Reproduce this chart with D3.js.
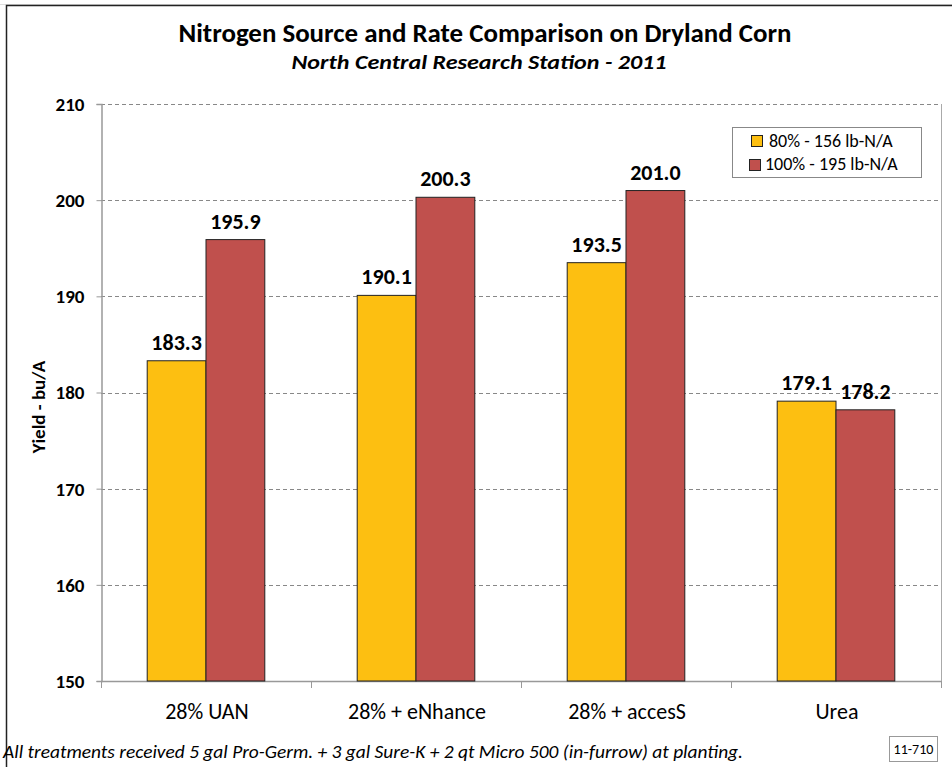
<!DOCTYPE html>
<html><head><meta charset="utf-8">
<script src="https://cdn.jsdelivr.net/npm/d3@7"></script>
<style>
body{margin:0;background:#fff;}
text{font-family:Carlito,Lato,"Liberation Sans",Arial,sans-serif;fill:#000;}
</style></head><body>
<svg id="c" width="952" height="767"></svg>
<script>
const categories = ["28% UAN","28% + eNhance","28% + accesS","Urea"];
const seriesNames = ["80% - 156 lb-N/A","100% - 195 lb-N/A"];
const rate80 = [183.3,190.1,193.5,179.1];
const rate100 = [195.9,200.3,201.0,178.2];
const yTicks = [150,160,170,180,190,200,210];
const colors = ["#FDBF11","#C0504D"];

const svg = d3.select("#c");
// frame
svg.append("line").attr("x1",0).attr("x2",952).attr("y1",4.5).attr("y2",4.5).attr("stroke","#ddd");
svg.append("path").attr("d","M6.5,767 V5.5 H952").attr("fill","none").attr("stroke","#222").attr("stroke-width",1.5);

const L=101,R=941,T=104,B=681;
const y = d3.scaleLinear().domain([150,210]).range([B,T]);
const x0 = d3.scaleBand().domain(categories).range([L,R]).paddingInner(0.44).paddingOuter(0.22);
const x1 = d3.scaleBand().domain([0,1]).range([0,x0.bandwidth()]);

// gridlines
svg.append("g").selectAll("line").data(yTicks.filter(d=>d>150)).join("line")
  .attr("x1",L).attr("x2",R).attr("y1",d=>Math.round(y(d))+0.5).attr("y2",d=>Math.round(y(d))+0.5)
  .attr("stroke","#888").attr("stroke-dasharray","4,3");

// y axis
const ya = svg.append("g").attr("transform",`translate(${L+0.5},0)`)
  .call(d3.axisLeft(y).tickValues(yTicks).tickSize(5).tickPadding(12).tickFormat(d3.format("d")));
ya.select(".domain").attr("stroke","#999").attr("stroke-width",1.5);
ya.selectAll(".tick line").attr("stroke","#999");
ya.selectAll("text").attr("font-size",19).attr("font-weight","bold").attr("fill","#000").attr("dy","0.34em");

// right line
svg.append("line").attr("x1",R+0.5).attr("x2",R+0.5).attr("y1",T).attr("y2",B+7).attr("stroke","#aaa");

// x axis
const step = (R-L)/categories.length;
const xa = svg.append("g");
xa.append("line").attr("x1",L).attr("x2",R).attr("y1",B+0.5).attr("y2",B+0.5).attr("stroke","#999").attr("stroke-width",1.5);
xa.selectAll("line.t").data(d3.range(categories.length+1)).join("line").attr("class","t")
  .attr("x1",i=>L+i*step+0.5).attr("x2",i=>L+i*step+0.5).attr("y1",B).attr("y2",B+7).attr("stroke","#999");
xa.selectAll("text").data(categories).join("text")
  .attr("x",d=>x0(d)+x0.bandwidth()/2+1).attr("y",719).attr("text-anchor","middle")
  .attr("font-size",22).text(d=>d);

// bars
const rows = categories.map((c,i)=>({c, v:[rate80[i],rate100[i]]}));
const g = svg.append("g").selectAll("g").data(rows).join("g").attr("transform",d=>`translate(${x0(d.c)},0)`);
g.selectAll("rect").data(d=>d.v.map((v,k)=>({v,k}))).join("rect")
  .attr("x",d=>x1(d.k)).attr("width",x1.bandwidth())
  .attr("y",d=>y(d.v)).attr("height",d=>B-y(d.v))
  .attr("fill",d=>colors[d.k]).attr("stroke","#222").attr("stroke-width",1);
g.selectAll("text").data(d=>d.v.map((v,k)=>({v,k}))).join("text")
  .attr("x",d=>x1(d.k)+x1.bandwidth()/2).attr("y",d=>y(d.v)-11)
  .attr("text-anchor","middle").attr("font-size",22).attr("font-weight","bold")
  .text(d=>d.v.toFixed(1));

// titles
svg.append("text").attr("x",485).attr("y",42).attr("text-anchor","middle").attr("font-size",27).attr("font-weight","bold")
  .attr("textLength",613).attr("lengthAdjust","spacingAndGlyphs").text("Nitrogen Source and Rate Comparison on Dryland Corn");
svg.append("text").attr("x",479).attr("y",69).attr("text-anchor","middle").attr("font-size",21).attr("font-weight","bold").attr("font-style","italic")
  .attr("textLength",375).attr("lengthAdjust","spacingAndGlyphs").text("North Central Research Station - 2011");

// y title
svg.append("text").attr("transform","translate(45,407) rotate(-90)").attr("text-anchor","middle")
  .attr("font-size",19).attr("font-weight","bold").text("Yield - bu/A");

// legend
const lg = svg.append("g");
lg.append("rect").attr("x",732.5).attr("y",127.5).attr("width",189).attr("height",50).attr("fill","#fff").attr("stroke","#888");
seriesNames.forEach((s,k)=>{
  lg.append("rect").attr("x",k?749.5:751.5).attr("y",k?159.5:135.5).attr("width",11).attr("height",11)
    .attr("fill",colors[k]).attr("stroke","#222");
  lg.append("text").attr("x",k?765:769).attr("y",k?170:147).attr("font-size",18).text(s);
});

// footnote
svg.append("text").attr("x",3).attr("y",758).attr("font-size",18).attr("font-style","italic")
  .attr("textLength",740).attr("lengthAdjust","spacingAndGlyphs")
  .text("All treatments received  5 gal Pro-Germ. + 3 gal Sure-K + 2 qt Micro 500  (in-furrow)  at planting.");
svg.append("rect").attr("x",889.5).attr("y",736.5).attr("width",48).attr("height",25).attr("fill","#fff").attr("stroke","#999");
svg.append("text").attr("x",913.5).attr("y",754).attr("text-anchor","middle").attr("font-size",14).text("11-710");
</script></body></html>
